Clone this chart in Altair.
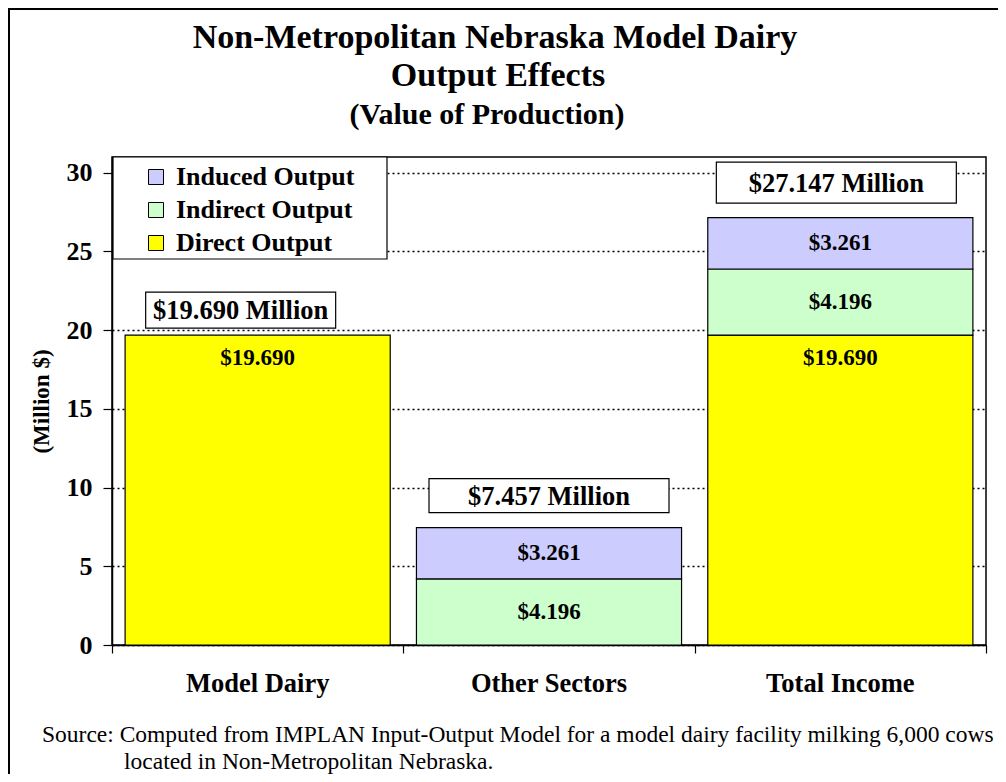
import altair as alt
import pandas as pd

# ---------------- data ----------------
categories = ["Model Dairy", "Other Sectors", "Total Income"]
components = ["Induced Output", "Indirect Output", "Direct Output"]
direct_output = [19.690, 0.0, 19.690]
indirect_output = [0.0, 4.196, 4.196]
induced_output = [0.0, 3.261, 3.261]
total_output = [19.690, 7.457, 27.147]
y_ticks = [0, 5, 10, 15, 20, 25, 30]
category_edges = [0, 1, 2, 3]
colors = ["#CCCCFF", "#CCFFCC", "#FFFF00"]

title_lines = ["Non-Metropolitan Nebraska Model Dairy", "Output Effects", "(Value of Production)"]
source_lines = [
    "Source: Computed from IMPLAN Input-Output Model for a model dairy facility milking 6,000 cows",
    "located in Non-Metropolitan Nebraska.",
]

rows = []
for cat, d, i, n in zip(categories, direct_output, indirect_output, induced_output):
    for comp, v in (("Direct Output", d), ("Indirect Output", i), ("Induced Output", n)):
        if v > 0:
            rows.append({"category": cat, "component": comp, "value": v})
seg = pd.DataFrame(rows)
tot = pd.DataFrame({"category": categories, "total": total_output})
edges = pd.DataFrame({"edge": category_edges})

# ---------------- layout ----------------
W, H = 874, 488
SERIF = "Liberation Serif"
YMAX = 31

y_scale = alt.Scale(domain=[0, YMAX], nice=False, zero=True)
band = alt.Scale(domain=categories, paddingInner=0.09, paddingOuter=0.045)

y_axis = alt.Axis(values=y_ticks, title="(Million $)", grid=True, gridDash=[2, 3],
                  gridColor="black", gridWidth=1.5, gridOpacity=1,
                  tickColor="black", tickSize=9, tickWidth=1.2,
                  domainColor="black", domainWidth=1.5,
                  labelFont=SERIF, labelFontSize=26, labelFontWeight="bold",
                  labelColor="black", labelPadding=11,
                  titleFont=SERIF, titleFontSize=23, titleFontWeight="bold",
                  titleColor="black", titlePadding=13)


def xb(axis=None):
    return alt.X("category:N", sort=categories, scale=band, axis=axis)


def yq(field):
    return alt.Y(field, scale=y_scale, axis=y_axis, title="(Million $)")


rank_expr = "indexof(['Direct Output','Indirect Output','Induced Output'], datum.component)"

frame = alt.Chart(pd.DataFrame({"k": [0]})).mark_rect(
    fill="white", fillOpacity=0, stroke="black", strokeWidth=2
).encode(
    x=alt.value(-103), x2=alt.value(W + 300), y=alt.value(-148), y2=alt.value(H + 300)
)

bars = alt.Chart(seg).transform_calculate(rank=rank_expr).mark_bar(
    stroke="black", strokeWidth=1.2
).encode(
    x=xb(alt.Axis(title=None, ticks=False, domain=False, orient="bottom",
                  labelFont=SERIF, labelFontSize=26.5,
                  labelFontWeight="bold", labelColor="black", labelPadding=25, labelAngle=0)),
    y=alt.Y("sum(value):Q", scale=y_scale, stack="zero", axis=y_axis, title="(Million $)"),
    color=alt.Color("component:N", scale=alt.Scale(domain=components, range=colors),
                    legend=alt.Legend(orient="none", legendX=31, legendY=7, title=None,
                                      symbolType="square", symbolSize=225,
                                      symbolStrokeColor="black", symbolStrokeWidth=1,
                                      symbolOpacity=1,
                                      labelFont=SERIF, labelFontSize=26, labelFontWeight="bold",
                                      labelColor="black", labelOffset=7, rowPadding=7,
                                      padding=0, labelLimit=400)),
    order=alt.Order("rank:Q", sort="ascending"),
)

xticks = alt.Chart(edges).mark_rule(opacity=0).encode(
    x=alt.X("edge:Q", scale=alt.Scale(domain=[0, 3], nice=False),
            axis=alt.Axis(values=category_edges, labels=False, title=None, grid=False,
                          orient="bottom", tickSize=8, tickColor="black", tickWidth=1.2,
                          domainColor="black", domainWidth=1.5)),
)

legend_box = alt.Chart(pd.DataFrame({"k": [0]})).mark_rect(
    fill="white", stroke="black", strokeWidth=1.2
).encode(x=alt.value(1), x2=alt.value(275), y=alt.value(0), y2=alt.value(102))

seg_text_mid = alt.Chart(seg).transform_calculate(rank=rank_expr).transform_stack(
    stack="value", groupby=["category"], as_=["v0", "v1"],
    sort=[alt.SortField("rank", order="ascending")]
).transform_calculate(
    mid="(datum.v0 + datum.v1) / 2",
    label="'$' + format(datum.value, '.3f')",
).transform_filter("datum.component != 'Direct Output'").mark_text(
    font=SERIF, fontSize=23, fontWeight="bold", color="black", baseline="middle"
).encode(x=xb(), y=yq("mid:Q"), text="label:N")

seg_text_top = alt.Chart(seg).transform_filter(
    "datum.component == 'Direct Output'"
).transform_calculate(label="'$' + format(datum.value, '.3f')").mark_text(
    font=SERIF, fontSize=23, fontWeight="bold", color="black", baseline="middle", dy=23
).encode(x=xb(), y=yq("value:Q"), text="label:N")

# total boxes: per-category box geometry (style only)
box_style = {
    "Model Dairy": dict(w=190, h=36, dx=-17, dy=-25),
    "Other Sectors": dict(w=240, h=34, dx=0, dy=-32),
    "Total Income": dict(w=240, h=41, dx=-4, dy=-35),
}
box_layers = []
for cat in categories:
    s = box_style[cat]
    base = alt.Chart(tot).transform_filter(alt.datum.category == cat).transform_calculate(
        label="'$' + format(datum.total, '.3f') + ' Million'"
    )
    box_layers.append(
        base.mark_rect(width=s["w"], height=s["h"], xOffset=s["dx"], yOffset=s["dy"],
                       fill="white", stroke="black", strokeWidth=1.2)
        .encode(x=xb(), y=yq("total:Q"))
    )
    box_layers.append(
        base.mark_text(font=SERIF, fontSize=26.5, fontWeight="bold", color="black",
                       baseline="middle", xOffset=s["dx"], yOffset=s["dy"] + 1)
        .encode(x=xb(), y=yq("total:Q"), text="label:N")
    )

titles = alt.Chart(pd.DataFrame({"t": title_lines, "i": [0, 1, 2]}))
title1 = titles.transform_filter("datum.i == 0").mark_text(
    font=SERIF, fontSize=34, fontWeight="bold", color="black", baseline="alphabetic", align="center"
).encode(x=alt.value(383), y=alt.value(48 - 157), text="t:N")
title2 = titles.transform_filter("datum.i == 1").mark_text(
    font=SERIF, fontSize=34, fontWeight="bold", color="black", baseline="alphabetic", align="center"
).encode(x=alt.value(386), y=alt.value(86 - 157), text="t:N")
title3 = titles.transform_filter("datum.i == 2").mark_text(
    font=SERIF, fontSize=30, fontWeight="bold", color="black", baseline="alphabetic", align="center"
).encode(x=alt.value(375), y=alt.value(124 - 157), text="t:N")

src = alt.Chart(pd.DataFrame({"t": source_lines, "i": [0, 1]}))
src1 = src.transform_filter("datum.i == 0").mark_text(
    font=SERIF, fontSize=23.5, color="black", baseline="alphabetic", align="left"
).encode(x=alt.value(42 - 112), y=alt.value(742 - 157), text="t:N")
src2 = src.transform_filter("datum.i == 1").mark_text(
    font=SERIF, fontSize=23.5, color="black", baseline="alphabetic", align="left"
).encode(x=alt.value(124 - 112), y=alt.value(769 - 157), text="t:N")

chart = alt.layer(
    frame, xticks, bars, legend_box, seg_text_mid, seg_text_top, *box_layers,
    title1, title2, title3, src1, src2
).resolve_scale(x="independent").properties(
    width=W, height=H,
    autosize=alt.AutoSizeParams(type="none"),
    padding={"left": 104, "top": 149, "right": 12, "bottom": 129},
    background="white",
).configure_view(stroke="black", strokeWidth=1.5)

chart.save("out.html", embed_options={"renderer": "svg", "actions": False})
